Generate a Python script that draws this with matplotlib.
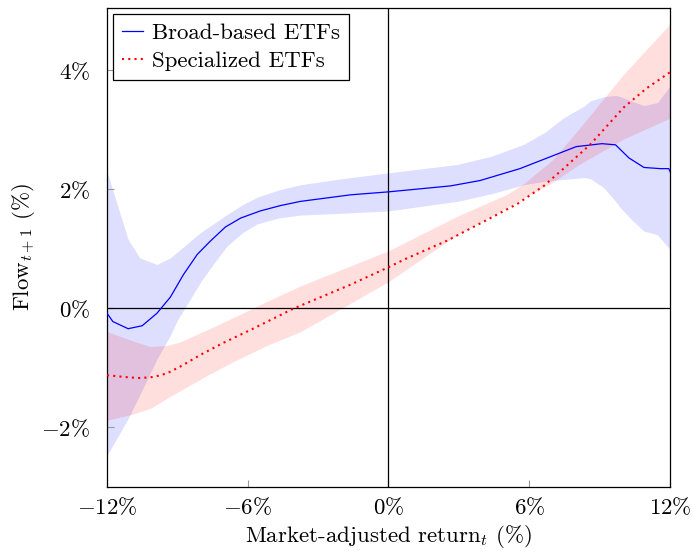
import matplotlib
matplotlib.use("Agg")
import matplotlib.pyplot as plt
import numpy as np

plt.rcParams['font.family'] = 'serif'
plt.rcParams['font.serif'] = ['cmr10']
plt.rcParams['mathtext.fontset'] = 'cm'
plt.rcParams['axes.unicode_minus'] = False
plt.rcParams['axes.formatter.use_mathtext'] = True

FS = 16.5

# Broad-based ETFs
broad_x = [-12, -11.75, -11.1, -10.5, -9.87, -9.3, -8.74, -8.15, -7.6, -6.95, -6.3, -5.46,
           -4.6, -3.75, -1.62, 0, 2.64, 3.9, 5.6, 6.9, 8.0, 9.1, 9.68, 10.25, 10.89, 11.6, 11.95, 12]
broad_y = [-0.08, -0.22, -0.34, -0.29, -0.08, 0.19, 0.57, 0.91, 1.13, 1.37, 1.52, 1.64,
           1.73, 1.80, 1.91, 1.96, 2.06, 2.15, 2.35, 2.55, 2.72, 2.77, 2.75, 2.53, 2.37, 2.35, 2.35, 2.30]
broad_band_x = [-12, -11.1, -10.6, -9.87, -9.3, -9.0, -8.0, -7.4, -6.88, -6.2, -5.6, -4.7, -3.75,
                -2.0, 0, 2.93, 4.4, 5.77, 6.7, 7.48, 8.33, 8.61, 9.18, 9.68, 9.89, 10.4,
                10.89, 11.46, 12]
broad_upper = [2.3, 1.16, 0.85, 0.74, 0.85, 0.95, 1.28, 1.44, 1.58, 1.75, 1.87, 1.99, 2.08,
               2.18, 2.28, 2.42, 2.56, 2.76, 2.97, 3.21, 3.40, 3.49, 3.56, 3.58, 3.56, 3.48,
               3.41, 3.46, 3.74]
broad_lower = [-2.47, -1.85, -1.45, -0.85, -0.45, -0.2, 0.45, 0.78, 1.05, 1.28, 1.42, 1.52, 1.57,
               1.60, 1.64, 1.80, 1.93, 2.08, 2.14, 2.17, 2.20, 2.18, 2.03, 1.80, 1.69, 1.48,
               1.30, 1.24, 0.99]

# Specialized ETFs
spec_x = [-12, -11.3, -10.58, -10.0, -9.44, -8.8, -8.02, -7.0, -5.88, -4.04, -1.62, 0.09, 0.65,
          2.5, 4.35, 5.5, 6.62, 7.6, 8.61, 10.03, 11.0, 12]
spec_y = [-1.12, -1.15, -1.17, -1.15, -1.09, -0.96, -0.78, -0.57, -0.36, 0.0, 0.40, 0.71, 0.82,
          1.14, 1.52, 1.76, 2.06, 2.40, 2.76, 3.38, 3.70, 3.97]
spec_band_x = [-12, -10.86, -10.15, -9.44, -8.87, -7.8, -6.6, -5.17, -3.75, 0, 2.93, 5.06, 5.77,
               7.0, 8.04, 10.03, 12]
spec_upper = [-0.39, -0.55, -0.64, -0.62, -0.56, -0.37, -0.15, 0.12, 0.38, 0.97, 1.55, 1.92, 2.1,
              2.50, 2.98, 3.94, 4.78]
spec_lower = [-1.88, -1.77, -1.68, -1.51, -1.38, -1.14, -0.89, -0.62, -0.39, 0.45, 1.24, 1.70, 1.86,
              2.12, 2.40, 2.85, 3.20]

xticks = [-12, -6, 0, 6, 12]
xtick_labels = [r'$-12\%$', r'$-6\%$', r'$0\%$', r'$6\%$', r'$12\%$']
yticks = [-2, 0, 2, 4]
ytick_labels = [r'$-2\%$', r'$0\%$', r'$2\%$', r'$4\%$']

fig = plt.figure(figsize=(6.93, 5.52), dpi=100)
ax = fig.add_axes([0.1544, 0.1178, 0.9668 - 0.1544, 0.9855 - 0.1178])

ax.fill_between(broad_band_x, broad_lower, broad_upper, color='#0000ff', alpha=0.13, lw=0)
ax.fill_between(spec_band_x, spec_lower, spec_upper, color='#ff0000', alpha=0.13, lw=0)

ax.axhline(0, color='black', lw=0.9, zorder=2)
ax.axvline(0, color='black', lw=0.9, zorder=2)

ax.plot(broad_x, broad_y, color='#0000ff', lw=0.9, label='Broad-based ETFs', zorder=3)
ax.plot(spec_x, spec_y, color='#ff0000', lw=1.5, linestyle=(0, (1, 2)),
        label='Specialized ETFs', zorder=3)

ax.set_xlim(-12, 12)
ax.set_ylim(-3, 5.05)
ax.set_xticks(xticks)
ax.set_xticklabels(xtick_labels, fontsize=FS)
ax.set_yticks(yticks)
ax.set_yticklabels(ytick_labels, fontsize=FS)
ax.tick_params(direction='in', length=5, color='#999999', width=0.8)
ax.tick_params(axis='x', pad=7)
ax.tick_params(axis='y', pad=12)

ax.set_xlabel(r'Market-adjusted return$_t$ (%)', fontsize=FS, labelpad=3)
ax.set_ylabel(r'Flow$_{t+1}$ (%)', fontsize=FS, labelpad=3)

for s in ax.spines.values():
    s.set_linewidth(0.9)
    s.set_color('black')

leg = ax.legend(loc='upper left', fontsize=FS, frameon=True, fancybox=False,
                edgecolor='black', framealpha=1, borderaxespad=0.26,
                handlelength=0.9, handletextpad=0.4, borderpad=0.4, labelspacing=0.35)
leg.get_frame().set_linewidth(0.9)

fig.savefig('out.png', dpi=100)
